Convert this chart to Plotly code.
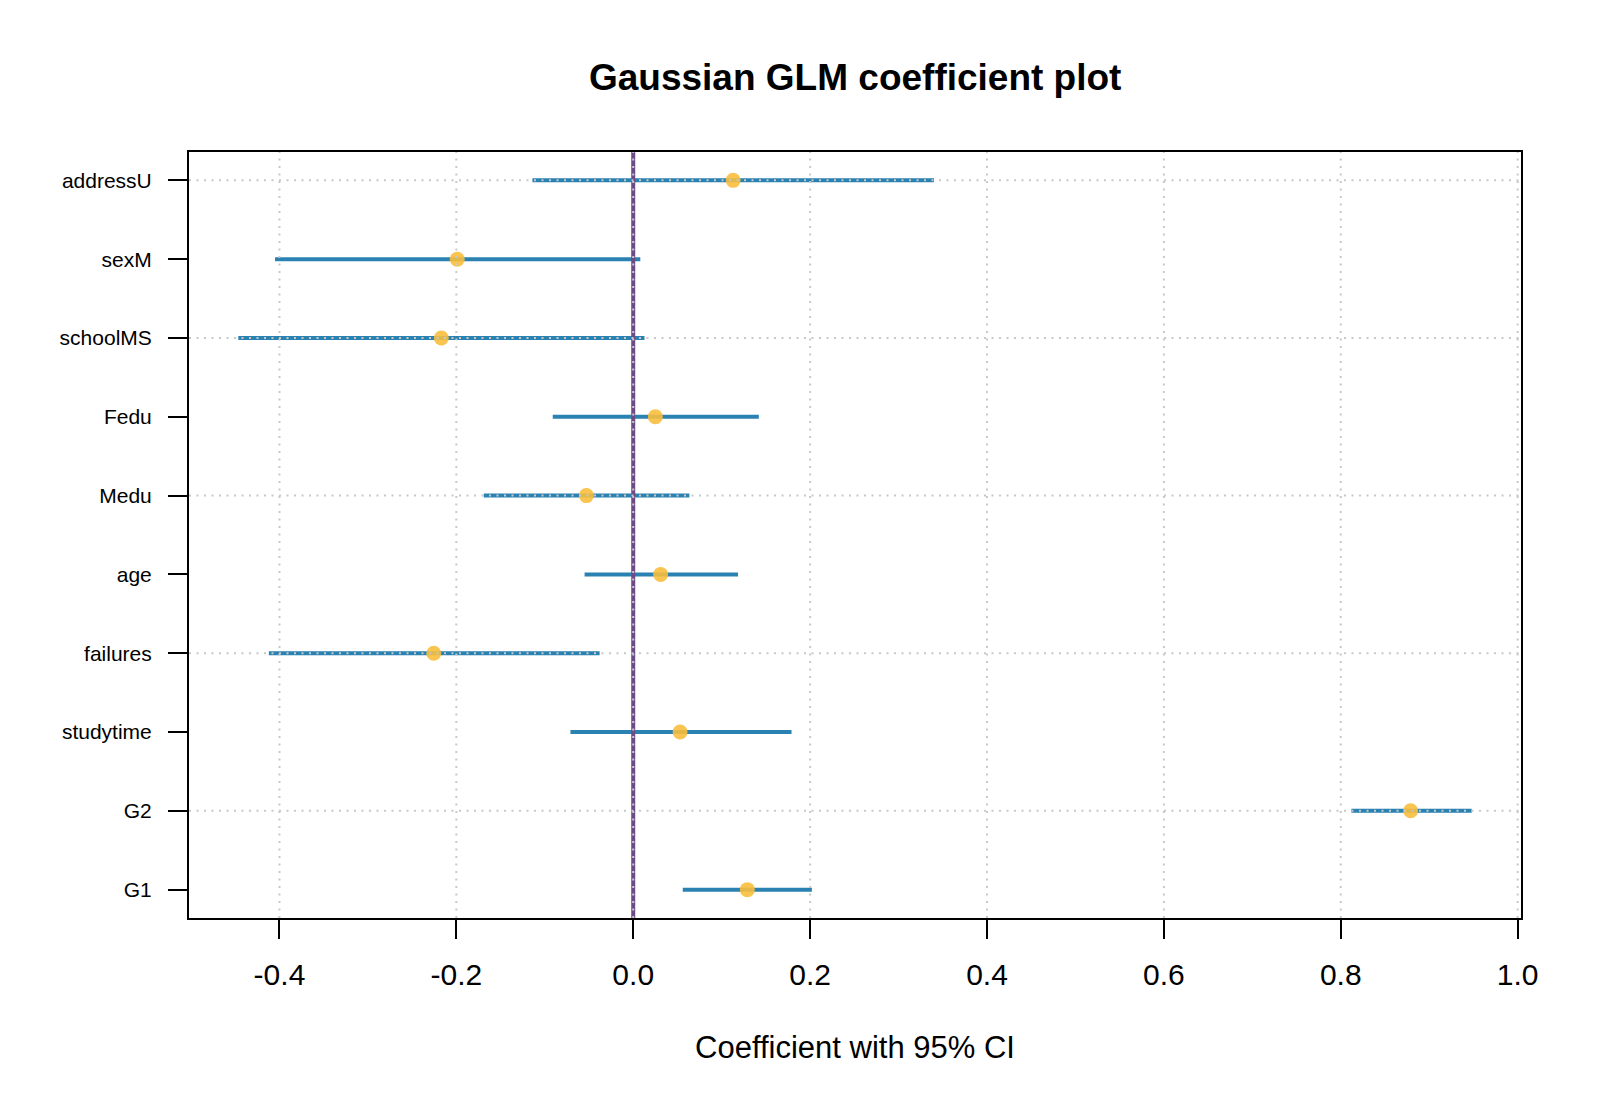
import plotly.graph_objects as go

# ---- data (bottom to top) ----
terms = ["G1", "G2", "studytime", "failures", "age", "Medu", "Fedu", "schoolMS", "sexM", "addressU"]
estimate = [0.129, 0.879, 0.053, -0.2255, 0.031, -0.053, 0.025, -0.217, -0.199, 0.113]
ci_low = [0.056, 0.812, -0.071, -0.412, -0.055, -0.169, -0.091, -0.4465, -0.405, -0.114]
ci_high = [0.202, 0.948, 0.179, -0.038, 0.1185, 0.0635, 0.142, 0.0127, 0.008, 0.340]
x_ticks = [-0.4, -0.2, 0.0, 0.2, 0.4, 0.6, 0.8, 1.0]
x_tick_text = ["-0.4", "-0.2", "0.0", "0.2", "0.4", "0.6", "0.8", "1.0"]
y_grid = [2, 4, 6, 8, 10]
ref_value = 0.0

# ---- style ----
BLUE = "#2A82B2"
ORANGE = "rgba(248,190,60,0.9)"
PURPLE = "#6E4B86"
GRID = "#C8C8C8"
FONT = "Liberation Sans, Arial, sans-serif"

ypos = list(range(1, len(terms) + 1))
span = max(ci_high) - min(ci_low)
x_range = [min(ci_low) - 0.04 * span, max(ci_high) + 0.04 * span]
y_range = [1 - 0.04 * (len(terms) - 1), len(terms) + 0.04 * (len(terms) - 1)]

fig = go.Figure()

# CI segments
seg_x, seg_y = [], []
for lo, hi, y in zip(ci_low, ci_high, ypos):
    seg_x += [lo, hi, None]
    seg_y += [y, y, None]
fig.add_trace(go.Scatter(x=seg_x, y=seg_y, mode="lines",
                         line=dict(color=BLUE, width=4), hoverinfo="skip", showlegend=False))

# reference line at zero
fig.add_trace(go.Scatter(x=[ref_value, ref_value], y=y_range, mode="lines",
                         line=dict(color=PURPLE, width=4), hoverinfo="skip", showlegend=False))

# point estimates
fig.add_trace(go.Scatter(x=estimate, y=ypos, mode="markers",
                         marker=dict(color=ORANGE, size=15, line=dict(width=0)),
                         showlegend=False))

# dotted grid drawn on top
gx, gy = [], []
for xv in x_ticks:
    gx += [xv, xv, None]
    gy += [y_range[0], y_range[1], None]
for yv in y_grid:
    gx += [x_range[0], x_range[1], None]
    gy += [yv, yv, None]
fig.add_trace(go.Scatter(x=gx, y=gy, mode="lines",
                         line=dict(color=GRID, width=2, dash="2px,5.5px"),
                         hoverinfo="skip", showlegend=False))

fig.update_layout(
    width=1600, height=1108,
    margin=dict(l=189, r=79, t=152, b=190),
    paper_bgcolor="white", plot_bgcolor="white",
    font=dict(family=FONT, color="black"),
    title=dict(text="<b>Gaussian GLM coefficient plot</b>", x=0.5345, xanchor="center",
               y=1 - 77 / 1108, yanchor="middle", yref="container",
               font=dict(size=37, family=FONT, color="black")),
    xaxis=dict(range=x_range, tickvals=x_ticks, ticktext=x_tick_text,
               showgrid=False, zeroline=False,
               showline=True, linecolor="black", linewidth=2, mirror=True,
               ticks="outside", ticklen=19, tickwidth=2, tickcolor="black",
               tickfont=dict(size=30, family=FONT), ticklabelstandoff=10,
               title=dict(text="Coefficient with 95% CI", font=dict(size=31, family=FONT),
                          standoff=46)),
    yaxis=dict(range=y_range, tickvals=ypos, ticktext=terms,
               showgrid=False, zeroline=False,
               showline=True, linecolor="black", linewidth=2, mirror=True,
               ticks="outside", ticklen=19, tickwidth=2, tickcolor="black",
               tickfont=dict(size=21, family=FONT), ticklabelstandoff=12),
)

fig.write_html("out.html")
